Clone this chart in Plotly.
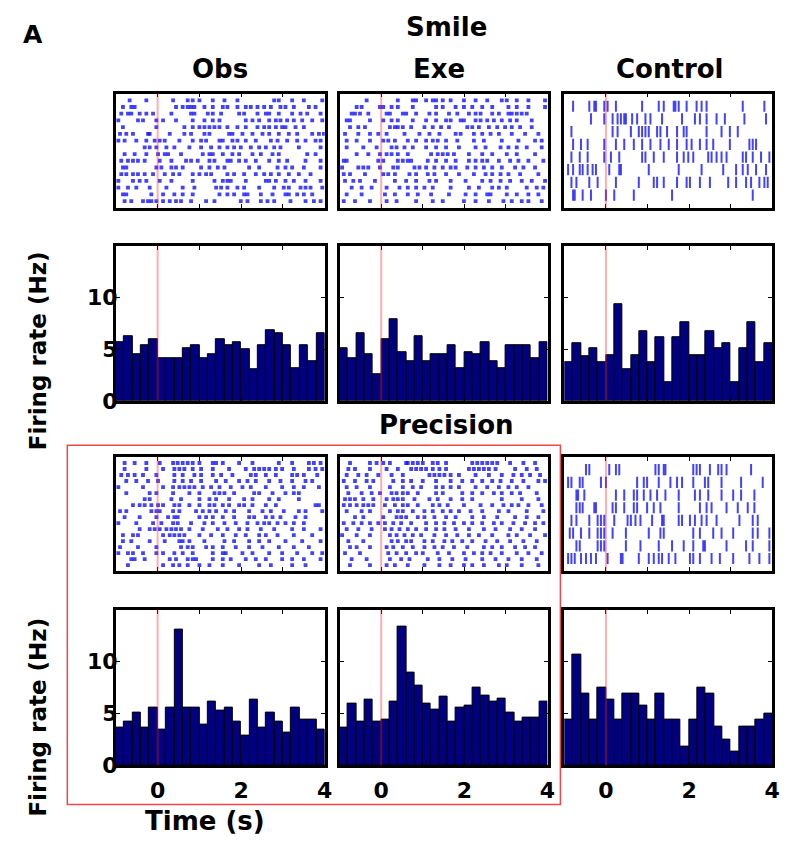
import plotly.graph_objects as go

W, H = 808, 858

# ---- time axis (s) ----
T_START, T_END = -1.0, 4.0
BIN_WIDTH = 0.2
N_BINS = 25
bin_centers = [round(T_START + BIN_WIDTH * (i + 0.5), 2) for i in range(N_BINS)]

x_tick_vals = [0, 1, 2, 3, 4]
x_tick_text = ["0", "", "2", "", "4"]
y_tick_vals = [0, 5, 10]
y_tick_text = ["0", "5", "10"]

# ---- PSTH firing rates (Hz), 200 ms bins from -1 to 4 s ----
smile_obs_rate = [5.7, 6.3, 4.5, 5.4, 6.0, 4.1, 4.1, 4.1, 5.1, 5.4, 4.1, 4.5, 6.0,
                  5.4, 5.7, 5.0, 3.1, 5.4, 6.9, 6.6, 5.4, 3.2, 5.4, 3.8, 6.6]
smile_exe_rate = [5.1, 4.1, 6.6, 4.5, 2.6, 6.0, 7.9, 4.7, 3.8, 6.3, 3.8, 4.5, 4.5,
                  5.4, 3.2, 4.7, 4.5, 5.7, 3.8, 3.2, 5.4, 5.4, 5.4, 4.1, 5.7]
smile_ctl_rate = [3.7, 5.6, 4.3, 5.1, 3.7, 4.4, 9.4, 3.1, 4.4, 6.8, 3.7, 6.2, 1.8,
                  6.2, 7.6, 4.4, 4.4, 6.8, 5.1, 5.6, 1.8, 5.1, 7.6, 3.7, 5.6]
prec_obs_rate = [3.6, 4.2, 5.1, 3.6, 5.6, 3.4, 5.6, 13.1, 5.6, 5.6, 3.9, 6.1, 5.3,
                 5.6, 4.2, 2.9, 6.3, 3.6, 5.1, 4.2, 3.1, 5.6, 4.4, 4.4, 3.4]
prec_exe_rate = [3.6, 5.9, 4.2, 6.3, 4.2, 4.4, 6.1, 13.4, 8.9, 7.7, 5.9, 5.4, 6.6,
                 4.2, 5.6, 5.7, 7.5, 6.7, 6.1, 6.4, 5.1, 4.2, 4.6, 4.6, 6.1]
prec_ctl_rate = [4.4, 10.7, 6.9, 4.4, 7.5, 6.3, 4.4, 6.9, 6.9, 5.7, 4.4, 6.9, 4.4,
                 4.4, 1.8, 4.4, 7.5, 6.9, 3.7, 2.5, 1.3, 3.7, 3.7, 4.4, 5.0]

# ---- spike rasters: spike times (s) for each trial, first trial on top ----
smile_obs_spikes = [
    [-0.67, -0.27, 0.37, 0.72, 0.84, 1.0, 1.32, 1.6, 1.91, 2.79, 2.9, 3.22, 3.5, 3.94],
    [-0.83, -0.63, -0.55, 0.44, 0.6, 0.72, 0.8, 0.88, 1.12, 1.32, 1.56, 1.67, 1.91, 2.11,
     2.23, 2.39, 2.55, 2.71, 2.94, 3.06, 3.26, 3.62, 3.78],
    [-0.87, -0.71, -0.63, -0.43, -0.27, -0.11, 0.33, 0.8, 0.88, 1.2, 1.32, 1.52, 1.95,
     2.07, 2.39, 2.59, 2.67, 2.9, 3.22, 3.42, 3.58, 3.9],
    [-0.94, -0.47, -0.35, -0.03, 0.13, 0.44, 0.84, 1.12, 1.32, 1.48, 2.11, 2.27, 2.43,
     2.67, 2.83, 2.94, 3.1, 3.26, 3.46, 3.7, 3.94],
    [-0.83, -0.03, 0.64, 0.84, 1.0, 1.12, 1.24, 1.36, 1.48, 1.67, 1.91, 2.11, 2.39, 2.55,
     2.67, 2.83, 2.98, 3.06, 3.3, 3.5],
    [-0.9, -0.75, -0.59, -0.23, -0.19, 0.29, 0.64, 0.8, 1.12, 1.24, 1.71, 1.79, 2.03,
     2.27, 2.51, 2.67, 2.9, 3.14, 3.34, 3.7, 3.86, 3.98],
    [-0.94, -0.79, -0.51, -0.27, -0.07, 0.05, 0.17, 0.52, 0.84, 1.04, 1.16, 1.48, 1.56,
     1.79, 1.91, 2.11, 2.35, 2.71, 2.87, 3.1, 3.34, 3.54, 3.78, 3.9],
    [-0.31, -0.19, -0.03, 0.21, 0.4, 0.76, 1.04, 1.28, 1.48, 1.67, 1.83, 1.99, 2.23,
     2.43, 2.59, 2.79, 2.94, 3.38, 3.9],
    [-0.79, -0.55, -0.27, 0.01, 0.17, 0.25, 0.56, 1.08, 1.24, 1.32, 1.56, 1.79, 1.95,
     2.27, 2.47, 2.75, 2.9, 3.58, 3.78],
    [-0.87, -0.71, -0.59, -0.47, -0.31, 0.05, 0.33, 0.68, 0.8, 0.96, 1.24, 1.36, 1.67,
     1.75, 1.95, 2.11, 2.35, 2.67, 2.9, 3.1, 3.54, 3.9],
    [-0.83, -0.75, -0.03, 0.09, 0.33, 0.44, 0.6, 1.04, 1.24, 1.44, 1.6, 2.19, 2.43, 2.87,
     3.06, 3.22, 3.5, 3.9],
    [-0.87, -0.75, -0.59, -0.47, -0.31, -0.11, 0.17, 0.37, 0.52, 0.84, 1.0, 1.16, 1.28,
     1.67, 1.83, 2.07, 2.35, 2.55, 2.71, 2.9, 3.14, 3.38, 3.66],
    [-0.94, -0.59, -0.43, -0.27, 0.05, 0.33, 0.84, 1.36, 1.56, 1.67, 1.75, 2.11, 2.59,
     2.67, 2.83, 3.06, 3.26, 3.54, 3.9],
    [-0.94, -0.71, -0.51, -0.19, 0.21, 0.6, 0.88, 1.4, 1.52, 1.67, 1.91, 2.07, 2.43, 2.79,
     3.02, 3.14, 3.42, 3.54, 3.66, 3.94],
    [-0.83, -0.75, -0.15, 0.13, 0.4, 0.6, 0.84, 1.48, 1.67, 1.83, 2.07, 2.15, 2.47, 2.75,
     3.06, 3.14, 3.34, 3.5, 3.7],
    [-0.79, -0.63, -0.35, -0.23, -0.15, -0.03, 0.13, 0.29, 0.44, 0.56, 0.8, 1.16, 1.36,
     1.99, 2.15, 2.47, 2.63, 2.79, 3.18, 3.54, 3.74, 3.9],
]

smile_exe_spikes = [
    [-0.35, 0.40, 0.76, 0.84, 1.08, 1.24, 1.32, 1.48, 1.67, 1.99, 2.27, 2.55, 2.90, 3.02,
     3.26, 3.54, 3.94],
    [-0.59, -0.47, -0.03, 0.05, 0.25, 0.40, 0.76, 1.32, 1.48, 1.79, 1.99, 2.19, 2.43,
     2.67, 3.06, 3.26, 3.54, 3.94],
    [-0.71, -0.63, -0.51, -0.31, 0.13, 0.21, 0.52, 0.60, 0.84, 1.16, 1.32, 1.63, 1.83,
     2.11, 2.27, 2.39, 2.67, 2.83, 3.06, 3.14, 3.26, 3.38, 3.50],
    [-0.83, -0.75, -0.27, 0.05, 0.25, 0.40, 0.76, 1.08, 1.32, 1.56, 1.67, 1.91, 1.99,
     2.27, 2.39, 2.55, 2.71, 2.90, 3.10, 3.26, 3.62],
    [-0.75, -0.55, -0.39, 0.21, 0.33, 0.40, 0.52, 0.72, 1.04, 1.24, 1.44, 1.63, 2.07,
     2.19, 2.35, 2.59, 2.79, 2.98, 3.14, 3.34, 3.62],
    [-0.87, -0.55, -0.27, -0.07, 0.13, 0.56, 0.92, 1.16, 1.40, 1.79, 1.91, 2.23, 2.43,
     2.63, 2.83, 3.14, 3.46, 3.78],
    [-0.83, -0.59, -0.27, 0.05, 0.17, 0.33, 0.64, 0.84, 1.08, 1.24, 1.36, 1.56, 1.83,
     2.23, 2.47, 2.90, 3.30, 3.70, 3.86],
    [-0.83, -0.43, -0.11, 0.25, 0.37, 0.56, 0.76, 1.08, 1.32, 1.56, 1.87, 2.27, 2.51,
     2.87, 3.06, 3.26, 3.50, 3.86],
    [-0.59, -0.31, -0.03, 0.13, 0.25, 0.40, 0.64, 1.20, 1.36, 1.48, 1.60, 1.75, 2.11,
     2.43, 2.67, 3.02, 3.26, 3.70],
    [-0.90, -0.83, -0.07, 0.05, 0.40, 0.52, 0.64, 0.72, 1.12, 1.32, 1.56, 1.79, 2.11,
     2.27, 2.43, 2.55, 2.83, 3.10, 3.30, 3.54, 3.90],
    [-0.94, -0.55, -0.43, -0.31, -0.03, 0.29, 0.40, 0.80, 0.92, 1.08, 1.28, 1.48, 1.67,
     1.79, 2.07, 2.27, 2.47, 2.67, 2.90, 3.22, 3.42, 3.70],
    [-0.90, -0.75, -0.39, 0.05, 0.17, 0.33, 0.68, 0.84, 1.12, 1.28, 1.56, 1.87, 2.23,
     2.51, 2.67, 2.87, 3.06, 3.34, 3.78],
    [-0.87, -0.67, -0.51, -0.15, 0.33, 0.60, 0.84, 1.16, 1.32, 1.67, 2.03, 2.43, 2.63,
     2.87, 3.10, 3.38, 3.62, 3.94],
    [-0.71, -0.47, -0.23, 0.13, 0.44, 0.64, 0.84, 1.04, 1.24, 1.67, 2.11, 2.35, 2.67,
     2.83, 3.02, 3.50, 3.74, 3.90],
    [-0.83, -0.47, 0.09, 0.33, 0.64, 0.88, 1.20, 1.63, 2.03, 2.27, 2.55, 2.63, 3.02,
     3.26, 3.54, 3.78],
    [-0.90, -0.63, -0.27, 0.13, 0.37, 0.84, 1.24, 1.48, 1.99, 2.27, 2.59, 2.94, 3.14,
     3.38, 3.54, 3.86],
]

smile_ctl_spikes = [
    [-0.79, -0.40, -0.28, -0.24, -0.04, 0.04, 0.24, 0.87, 1.27, 1.39, 1.63, 1.67, 1.75,
     1.94, 2.18, 2.30, 2.42, 3.29, 3.81],
    [-0.36, -0.04, 0.16, 0.28, 0.36, 0.44, 0.48, 0.63, 0.75, 0.95, 1.07, 1.35, 1.83,
     2.14, 2.26, 2.42, 2.66, 2.86, 3.33, 3.85],
    [-0.83, 0.16, 0.28, 0.60, 0.79, 0.87, 0.95, 1.03, 1.23, 1.31, 1.47, 1.71, 1.87, 1.94,
     2.42, 2.78, 2.98, 3.17],
    [-0.79, -0.60, -0.44, -0.04, 0.24, 0.44, 0.67, 0.87, 1.07, 1.31, 1.51, 1.71, 1.94,
     2.06, 2.26, 2.42, 2.58, 2.98, 3.45, 3.53, 3.61],
    [-0.83, -0.63, -0.44, -0.04, 0.12, 0.32, 0.87, 0.95, 1.15, 1.39, 1.71, 1.87, 1.98,
     2.10, 2.46, 2.54, 2.66, 2.78, 2.90, 3.29, 3.37, 3.53, 3.73, 3.93],
    [-0.91, -0.79, -0.63, -0.56, -0.44, -0.32, -0.24, 0.08, 0.32, 0.36, 1.03, 1.75, 2.30,
     2.82, 3.13, 3.29, 3.41, 3.61, 3.85],
    [-0.83, -0.71, -0.40, -0.20, 0.24, 0.79, 1.15, 1.23, 1.39, 1.71, 1.94, 2.02, 2.26,
     2.50, 2.94, 3.13, 3.37, 3.49, 3.69, 3.81, 3.89],
    [-0.79, -0.75, -0.56, -0.36, 0.00, 0.20, 0.67, 1.59, 3.53],
]

prec_obs_spikes = [
    [-0.79, -0.55, -0.27, 0.05, 0.37, 0.48, 0.60, 0.72, 0.84, 1.00, 1.32, 1.40, 1.56,
     1.95, 2.27, 2.90, 3.22, 3.62, 3.74, 3.90],
    [-0.79, -0.27, 0.13, 0.40, 0.52, 0.64, 0.84, 1.04, 1.32, 1.71, 2.11, 2.31, 2.43,
     2.55, 2.67, 2.83, 2.98, 3.26, 3.62, 3.78, 3.94],
    [-0.87, -0.71, -0.55, -0.35, -0.03, 0.40, 0.60, 0.88, 1.04, 1.32, 1.52, 1.79, 2.23,
     2.35, 2.59, 2.83, 3.22, 3.34, 3.50, 3.82],
    [-0.75, -0.51, -0.23, 0.01, 0.40, 0.60, 0.80, 1.04, 1.40, 1.63, 1.95, 2.15, 2.35,
     2.67, 2.94, 3.22, 3.54, 3.70],
    [-0.94, -0.35, 0.13, 0.37, 0.52, 0.64, 0.76, 0.88, 1.08, 1.28, 1.48, 1.75, 2.03,
     2.23, 2.59, 2.98, 3.26, 3.50, 3.86],
    [-0.75, -0.19, -0.03, 0.37, 0.76, 1.00, 1.36, 1.48, 1.60, 1.83, 2.31, 2.43, 2.75,
     3.06, 3.26, 3.38],
    [-0.31, -0.19, 0.33, 0.56, 1.00, 1.24, 1.40, 1.71, 2.07, 2.27, 2.67, 2.90, 3.38],
    [-0.59, -0.43, -0.31, -0.15, 0.01, 0.13, 0.40, 0.52, 0.76, 1.00, 1.24, 1.36, 1.56,
     1.71, 1.95, 2.07, 2.27, 2.59, 2.83, 3.78, 3.86],
    [-0.90, -0.75, -0.15, -0.03, 0.05, 0.37, 0.52, 0.92, 1.08, 1.24, 1.40, 1.63, 1.83,
     2.19, 2.51, 2.71, 3.02, 3.38, 3.54, 3.94],
    [-0.79, -0.43, -0.03, 0.25, 0.40, 0.48, 1.00, 1.16, 1.32, 1.56, 1.83, 2.19, 2.31,
     2.59, 2.75, 2.94, 3.30, 3.54],
    [-0.94, -0.51, -0.11, 0.09, 0.37, 0.48, 0.80, 1.12, 1.32, 1.60, 1.87, 2.15, 2.39,
     2.55, 2.67, 2.87, 3.06, 3.26, 3.50],
    [-0.43, -0.19, -0.07, 0.05, 0.21, 0.33, 0.44, 0.56, 0.76, 1.08, 1.44, 1.67, 1.95,
     2.15, 2.47, 2.79, 3.22, 3.50, 3.90],
    [-0.83, -0.59, -0.47, 0.13, 0.29, 0.40, 0.52, 0.64, 1.00, 1.28, 1.56, 1.87, 2.11,
     2.43, 2.59, 2.87, 3.26, 3.70],
    [-0.83, -0.63, -0.19, 0.17, 0.52, 0.60, 0.76, 1.12, 1.60, 1.83, 2.19, 2.43, 2.67,
     3.06, 3.46, 3.90],
    [-0.90, -0.47, -0.03, 0.56, 0.72, 0.84, 1.16, 1.32, 1.56, 1.87, 2.19, 2.51, 2.90,
     3.26, 3.62],
    [-0.94, -0.71, -0.59, -0.35, -0.03, 0.13, 0.40, 0.60, 0.84, 1.32, 1.56, 1.63, 2.03,
     2.27, 2.67, 2.98, 3.34, 3.70, 3.94],
    [-0.63, -0.55, -0.31, 0.29, 0.44, 0.72, 0.84, 0.92, 1.32, 1.56, 1.75, 2.11, 2.35,
     2.59, 2.98, 3.22, 3.50, 3.90],
    [-0.71, 0.13, 0.37, 0.52, 0.72, 1.00, 1.24, 1.56, 1.95, 2.43, 2.71, 3.22, 3.54],
]

prec_exe_spikes = [
    [-0.75, -0.27, -0.11, 0.05, 0.21, 0.60, 0.64, 0.76, 0.88, 1.00, 1.24, 1.36, 1.56,
     2.19, 2.31, 2.43, 2.55, 2.67, 2.79, 3.10, 3.42, 3.70],
    [-0.79, -0.63, -0.27, 0.13, 0.40, 0.72, 0.84, 0.96, 1.08, 1.24, 1.40, 1.56, 2.11,
     2.23, 2.35, 2.47, 2.59, 2.75, 3.22, 3.50, 3.74],
    [-0.83, -0.55, -0.35, -0.07, 0.25, 0.52, 1.16, 1.28, 1.40, 1.52, 1.67, 1.87, 2.27,
     2.59, 2.90, 3.18, 3.38, 3.58, 3.82],
    [-0.90, -0.63, -0.35, -0.19, 0.29, 0.52, 0.72, 1.00, 1.32, 1.67, 1.95, 2.19, 2.43,
     2.67, 2.87, 3.14, 3.42, 3.78, 3.94],
    [-0.83, -0.59, -0.27, 0.21, 0.52, 0.76, 0.96, 1.32, 1.48, 1.67, 1.87, 2.27, 2.55,
     2.83, 3.06, 3.26, 3.54],
    [-0.79, -0.47, -0.23, -0.03, 0.25, 0.37, 0.52, 0.64, 0.88, 1.32, 1.48, 1.95, 2.19,
     2.43, 2.71, 2.90, 3.14, 3.34, 3.74],
    [-0.87, -0.75, -0.63, -0.43, -0.19, 0.13, 0.29, 0.40, 0.52, 0.80, 1.16, 1.36, 1.67,
     1.95, 2.19, 2.90, 3.38, 3.78],
    [-0.90, -0.75, -0.59, -0.43, -0.31, -0.19, 0.09, 0.33, 0.52, 0.64, 0.88, 1.24, 1.40,
     1.60, 1.99, 2.39, 2.67, 2.94, 3.14, 3.30, 3.54, 3.86],
    [-0.83, -0.47, -0.27, 0.21, 0.40, 0.52, 0.76, 1.04, 1.24, 1.48, 1.67, 1.87, 2.15,
     2.43, 2.83, 3.06, 3.50, 3.90],
    [-0.63, -0.43, 0.05, 0.37, 0.48, 0.60, 0.88, 1.04, 1.28, 1.56, 1.79, 2.19, 2.47,
     2.79, 3.22, 3.50, 3.78],
    [-0.90, -0.67, -0.47, -0.27, -0.07, 0.09, 0.29, 0.48, 0.72, 1.08, 1.32, 1.52, 1.75,
     1.99, 2.19, 2.43, 2.71, 2.90, 3.18, 3.46, 3.70, 3.90],
    [-0.83, -0.55, -0.23, 0.09, 0.25, 0.44, 0.64, 0.84, 1.08, 1.32, 1.52, 1.79, 2.11,
     2.47, 2.75, 3.10, 3.38, 3.70],
    [-0.94, -0.59, -0.27, 0.21, 0.37, 0.56, 0.76, 0.96, 1.28, 1.56, 1.83, 2.11, 2.35,
     2.67, 3.06, 3.26, 3.58, 3.94],
    [-0.79, -0.43, 0.25, 0.40, 0.60, 0.72, 1.04, 1.24, 1.52, 1.71, 1.95, 2.19, 2.51,
     2.79, 3.10, 3.42, 3.74],
    [-0.75, -0.59, -0.27, 0.13, 0.29, 0.52, 0.76, 1.04, 1.28, 1.48, 1.75, 2.07, 2.47,
     2.67, 2.90, 3.22, 3.46, 3.70],
    [-0.87, -0.51, 0.17, 0.37, 0.60, 0.84, 1.00, 1.36, 1.63, 1.99, 2.23, 2.43, 2.63,
     2.90, 3.26, 3.54, 3.86],
    [-0.71, -0.35, 0.21, 0.48, 0.68, 1.12, 1.40, 1.71, 2.03, 2.43, 2.75, 3.06, 3.38, 3.74],
    [-0.75, -0.27, 0.13, 0.33, 0.64, 1.04, 1.40, 1.67, 1.99, 2.19, 2.47, 2.83, 3.02,
     3.38, 3.78],
]

prec_ctl_spikes = [
    [-0.48, -0.40, 0.08, 0.24, 0.32, 1.19, 1.27, 1.39, 1.43, 2.10, 2.18, 2.26, 2.50,
     2.70, 2.78, 2.90, 3.49],
    [-0.91, -0.83, -0.63, -0.56, -0.12, 0.00, 0.75, 0.91, 0.99, 1.27, 1.55, 1.71, 1.83,
     2.10, 2.38, 2.46, 2.78, 3.25, 3.77],
    [-0.71, -0.67, -0.52, 0.24, 0.44, 0.67, 0.75, 0.91, 1.07, 1.23, 1.43, 1.75, 2.14,
     2.26, 2.46, 2.78, 3.06, 3.25, 3.57],
    [-0.71, -0.63, -0.56, -0.28, -0.24, 0.16, 0.24, 0.44, 0.67, 0.75, 0.99, 1.15, 1.31,
     1.75, 2.26, 2.42, 2.54, 2.90, 3.17, 3.41, 3.57],
    [-0.83, -0.71, -0.40, -0.20, -0.12, -0.04, 0.20, 0.52, 0.60, 0.71, 0.83, 1.11, 1.35,
     1.39, 1.75, 1.83, 2.02, 2.14, 2.30, 2.42, 2.66, 3.21, 3.53, 3.65],
    [-0.87, -0.79, -0.60, -0.40, -0.20, -0.12, -0.04, 0.16, 0.48, 1.03, 1.31, 1.39, 2.10,
     2.26, 2.58, 2.78, 3.06, 3.53, 3.65, 3.93],
    [-0.71, -0.63, -0.20, -0.12, -0.04, 0.48, 0.83, 1.27, 1.59, 1.87, 2.10, 2.34, 2.38,
     2.90, 3.37, 3.53, 3.93],
    [-0.91, -0.83, -0.75, -0.60, -0.48, -0.36, -0.24, 0.04, 0.36, 0.40, 0.79, 1.03, 1.15,
     1.27, 1.35, 1.51, 1.67, 2.02, 2.10, 2.26, 2.54, 2.74, 3.06, 3.45, 3.69, 3.93],
]

# ---- styling ----
FONT = "DejaVu Sans"
BAR_COLOR = "#000080"
SPIKE_COLOR = "rgba(20,20,255,0.8)"
ONSET_COLOR = "rgba(255,40,40,0.38)"
FRAME_W = 2.8

# pixel boxes of the panel grid
col_px = [(117, 328), (343, 553), (570, 780)]
raster_rows_px = [(95, 211), (464, 580)]
hist_rows_px = [(250, 407), (619, 777)]


def xdom(a, b):
    return [a / W, b / W]


def ydom(top, bottom):
    return [1 - bottom / H, 1 - top / H]


def suffix(n):
    return "" if n == 1 else str(n)


fig = go.Figure()
layout_axes = {}
shapes = []

panels = [
    # (condition row, column, raster spikes, mark style, rates)
    (0, 0, smile_obs_spikes, "dot", smile_obs_rate),
    (0, 1, smile_exe_spikes, "dot", smile_exe_rate),
    (0, 2, smile_ctl_spikes, "tick", smile_ctl_rate),
    (1, 0, prec_obs_spikes, "dot", prec_obs_rate),
    (1, 1, prec_exe_spikes, "dot", prec_exe_rate),
    (1, 2, prec_ctl_spikes, "tick", prec_ctl_rate),
]

tick_font = dict(family=FONT, size=22, color="black", weight="bold")
frame = dict(showline=True, linecolor="black", linewidth=FRAME_W,
             showgrid=False, zeroline=False)

ax = 0
for cond, col, spikes, style, rates in panels:
    # ---------- raster ----------
    ax += 1
    s = suffix(ax)
    xs, ys = [], []
    for trial, times in enumerate(spikes, start=1):
        xs.extend(times)
        ys.extend([trial] * len(times))
    if style == "dot":
        marker = dict(symbol="square", size=3.8, color=SPIKE_COLOR, line=dict(width=0))
    else:
        marker = dict(symbol="line-ns", size=8, line=dict(width=2, color=SPIKE_COLOR))
    fig.add_trace(go.Scatter(x=xs, y=ys, mode="markers", marker=marker,
                             xaxis=f"x{s}", yaxis=f"y{s}", hoverinfo="skip"))
    n_trials = len(spikes)
    layout_axes[f"xaxis{s}"] = dict(
        domain=xdom(*col_px[col]), range=[T_START, T_END], anchor=f"y{s}",
        mirror="ticks", ticks="inside", ticklen=4, tickwidth=1.2, tickcolor="black",
        tickvals=x_tick_vals, showticklabels=False, **frame)
    layout_axes[f"yaxis{s}"] = dict(
        domain=ydom(*raster_rows_px[cond]), range=[n_trials + 1, 0], anchor=f"x{s}",
        mirror=True, ticks="", showticklabels=False, **frame)
    shapes.append(dict(type="line", xref=f"x{s}", yref=f"y{s} domain",
                       x0=0, x1=0, y0=0, y1=1, line=dict(color=ONSET_COLOR, width=2)))

    # ---------- PSTH ----------
    ax += 1
    s = suffix(ax)
    fig.add_trace(go.Bar(x=bin_centers, y=rates, width=BIN_WIDTH,
                         marker=dict(color=BAR_COLOR, line=dict(color="black", width=1)),
                         xaxis=f"x{s}", yaxis=f"y{s}", hoverinfo="skip"))
    layout_axes[f"xaxis{s}"] = dict(
        domain=xdom(*col_px[col]), range=[T_START, T_END], anchor=f"y{s}",
        mirror="ticks", ticks="inside", ticklen=4, tickwidth=1.2, tickcolor="black",
        tickvals=x_tick_vals, ticktext=x_tick_text, showticklabels=(cond == 1),
        ticklabelstandoff=3, tickfont=tick_font, **frame)
    layout_axes[f"yaxis{s}"] = dict(
        domain=ydom(*hist_rows_px[cond]), range=[0, 15], anchor=f"x{s}",
        mirror="ticks", ticks="inside", ticklen=4, tickwidth=1.2, tickcolor="black",
        tickvals=y_tick_vals, ticktext=y_tick_text, showticklabels=(col == 0),
        ticklabelstandoff=-9, tickfont=tick_font, **frame)
    shapes.append(dict(type="line", xref=f"x{s}", yref=f"y{s} domain",
                       x0=0, x1=0, y0=0, y1=1, line=dict(color=ONSET_COLOR, width=2)))

# frame around the Precision Obs/Exe block
shapes.append(dict(type="rect", xref="paper", yref="paper",
                   x0=68 / W, x1=566 / W, y0=1 - 817 / H, y1=1 - 452 / H,
                   line=dict(color="rgb(240,70,70)", width=1.5)))


def label(text, x, y, size=26, angle=0):
    return dict(text=f"<b>{text}</b>", x=x / W, y=1 - y / H, xref="paper", yref="paper",
                xanchor="center", yanchor="middle", showarrow=False, textangle=angle,
                font=dict(family=FONT, size=size, color="black"))


annotations = [
    label("A", 33, 35, 25),
    label("Smile", 451, 27),
    label("Obs", 222, 70),
    label("Exe", 443, 70),
    label("Control", 676, 70),
    label("Precision", 451, 432),
    label("Firing rate (Hz)", 38, 356, 23, -90),
    label("Firing rate (Hz)", 38, 728, 23, -90),
    label("Time (s)", 207, 834),
]

fig.update_layout(
    width=W, height=H, margin=dict(l=0, r=0, t=0, b=0),
    paper_bgcolor="white", plot_bgcolor="white", showlegend=False,
    bargap=0, shapes=shapes, annotations=annotations, **layout_axes)

fig.write_html("out.html")
